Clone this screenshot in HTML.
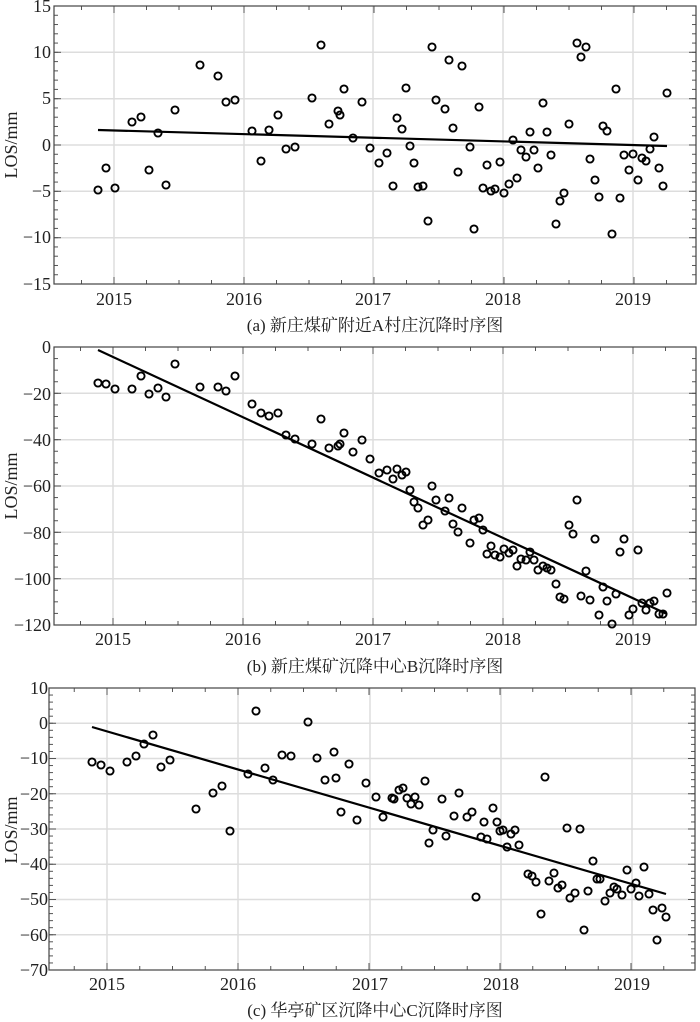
<!DOCTYPE html>
<html><head><meta charset="utf-8"></head><body style="margin:0;background:#fff;">
<svg id="s" width="700" height="1022" viewBox="0 0 700 1022" style="display:block" font-family="'Liberation Serif', 'DejaVu Serif', 'Noto Serif CJK SC', serif" font-size="17" fill="#222">
<g id="g"></g>
<g font-family="Liberation Serif, serif" font-size="18" fill="#222">
<g text-anchor="end">
<text x="51" y="12">15</text><text x="51" y="58">10</text><text x="51" y="104">5</text><text x="51" y="151">0</text>
<text x="51" y="197">−5</text><text x="51" y="243">−10</text><text x="51" y="290">−15</text>
</g>
<g text-anchor="middle">
<text x="114" y="305">2015</text><text x="244" y="305">2016</text><text x="373" y="305">2017</text><text x="503" y="305">2018</text><text x="633" y="305">2019</text>
</g>
<text transform="translate(17,145) rotate(-90)" text-anchor="middle">LOS/mm</text>
<g text-anchor="end">
<text x="51" y="353">0</text><text x="51" y="400">−20</text><text x="51" y="446">−40</text><text x="51" y="492">−60</text>
<text x="51" y="539">−80</text><text x="51" y="585">−100</text><text x="51" y="631">−120</text>
</g>
<g text-anchor="middle">
<text x="113" y="645">2015</text><text x="243" y="645">2016</text><text x="373" y="645">2017</text><text x="503" y="645">2018</text><text x="633" y="645">2019</text>
</g>
<text transform="translate(17,486) rotate(-90)" text-anchor="middle">LOS/mm</text>
<g text-anchor="end">
<text x="48" y="694">10</text><text x="48" y="729">0</text><text x="48" y="764">−10</text><text x="48" y="800">−20</text>
<text x="48" y="835">−30</text><text x="48" y="870">−40</text><text x="48" y="905">−50</text><text x="48" y="941">−60</text><text x="48" y="976">−70</text>
</g>
<g text-anchor="middle">
<text x="107" y="990">2015</text><text x="238" y="990">2016</text><text x="370" y="990">2017</text><text x="501" y="990">2018</text><text x="632" y="990">2019</text>
</g>
<text transform="translate(17,830) rotate(-90)" text-anchor="middle">LOS/mm</text>
</g>
<g font-family="Liberation Serif, Noto Serif CJK SC, serif" font-size="17" fill="#222" text-anchor="middle">
<text x="375" y="331">(a) 新庄煤矿附近A村庄沉降时序图</text>
<text x="375" y="672">(b) 新庄煤矿沉降中心B沉降时序图</text>
<text x="375" y="1016">(c) 华亭矿区沉降中心C沉降时序图</text>
</g>
</svg>
<script>
var NS="http://www.w3.org/2000/svg",g=document.getElementById("g");
function el(t,a){var e=document.createElementNS(NS,t);for(var k in a)e.setAttribute(k,a[k]);g.appendChild(e);return e;}
function panel(L,R,T,B,xs,ymaj,yminStep,pts,line){
  xs.forEach(function(x){el("line",{x1:x,x2:x,y1:T,y2:B,stroke:"#ccc","stroke-width":1});});
  ymaj.forEach(function(y){el("line",{x1:L,x2:R,y1:y,y2:y,stroke:"#ddd","stroke-width":1.5});});
  var dx=(xs[1]-xs[0])/4;
  for(var x=xs[0]-4*dx;x<R;x+=dx){if(x<=L)continue;var len=(Math.abs((x-xs[0])/(4*dx)-Math.round((x-xs[0])/(4*dx)))<0.01)?7:4;
    el("line",{x1:x,x2:x,y1:B,y2:B-len,stroke:"#555"});el("line",{x1:x,x2:x,y1:T,y2:T+len,stroke:"#555"});}
  for(var y=T;y<=B+0.5;y+=yminStep){el("line",{x1:L,x2:L+4,y1:y,y2:y,stroke:"#555"});el("line",{x1:R,x2:R-4,y1:y,y2:y,stroke:"#555"});}
  ymaj.forEach(function(y){el("line",{x1:L,x2:L+7,y1:y,y2:y,stroke:"#555"});el("line",{x1:R,x2:R-7,y1:y,y2:y,stroke:"#555"});});
  el("rect",{x:L,y:T,width:R-L,height:B-T,fill:"none",stroke:"#444","stroke-width":1.2});
  el("line",{x1:line[0],y1:line[1],x2:line[2],y2:line[3],stroke:"#000","stroke-width":2.2});
  for(var i=0;i<pts.length;i+=2)el("circle",{cx:pts[i],cy:pts[i+1],r:3.6,fill:"none",stroke:"#000","stroke-width":1.9});
}
var A=[98,190,106,168,115,188,132,122,141,117,149,170,158,133,166,185,175,110,200,65,218,76,226,102,235,100,252,131,261,161,269,130,278,115,286,149,295,147,312,98,321,45,329,124,338,111,340,115,344,89,353,138,362,102,370,148,379,163,387,153,393,186,397,118,402,129,406,88,410,146,414,163,418,187,423,186,428,221,432,47,436,100,445,109,449,60,453,128,458,172,462,66,470,147,474,229,479,107,483,188,487,165,491,191,495,189,500,162,504,193,509,184,513,140,517,178,521,150,526,157,530,132,534,150,538,168,543,103,547,132,551,155,556,224,560,201,564,193,569,124,577,43,581,57,586,47,590,159,595,180,599,197,603,126,607,131,612,234,616,89,620,198,624,155,629,170,633,154,638,180,642,158,646,161,650,149,654,137,659,168,663,186,667,93];
var Bp=[98,383,106,384,115,389,132,389,141,376,149,394,158,388,166,397,175,364,200,387,218,387,226,391,235,376,252,404,261,413,269,416,278,413,286,435,295,439,312,444,321,419,329,448,338,446,340,444,344,433,353,452,362,440,370,459,379,473,387,470,393,479,397,469,402,475,406,472,410,490,414,502,418,508,423,525,428,520,432,486,436,500,445,511,449,498,453,524,458,532,462,508,470,543,474,520,479,518,483,530,487,554,491,546,495,555,500,557,504,549,509,553,513,550,517,566,521,559,526,560,530,552,534,560,538,570,543,566,547,568,551,570,556,584,560,597,564,599,569,525,573,534,577,500,581,596,586,571,590,600,595,539,599,615,603,587,607,601,612,624,616,594,620,552,624,539,629,615,633,609,638,550,642,603,646,610,650,603,654,601,659,614,663,614,667,593];
var C=[92,762,101,765,110,771,127,762,136,756,144,744,153,735,161,767,170,760,196,809,213,793,222,786,230,831,248,774,256,711,265,768,273,780,282,755,291,756,308,722,317,758,325,780,334,752,336,778,341,812,349,764,357,820,366,783,376,797,383,817,392,798,394,799,399,790,403,788,407,798,411,804,415,797,419,805,425,781,429,843,433,830,442,799,446,836,454,816,459,793,467,817,472,812,476,897,481,837,484,822,487,839,493,808,497,822,500,831,503,830,507,847,511,834,515,830,519,845,528,874,532,876,536,882,541,914,545,777,549,881,554,873,558,888,562,885,567,828,570,898,575,893,580,829,584,930,588,891,593,861,597,879,600,879,605,901,610,893,614,887,617,889,622,895,627,870,631,889,636,883,639,896,644,867,649,894,653,910,657,940,662,908,666,917];
panel(54,696,6,284,[114,244,373,503,633],[52.3,98.7,145,191.3,237.7],9.267,A,[98,130,667,146]);
panel(54,696,347,625,[113,243,373,503,633],[393.3,439.7,486,532.3,578.7],11.583,Bp,[98,350,667,614]);
panel(49,695,688,970,[107,238,370,501,632],[723.25,758.5,793.75,829,864.25,899.5,934.75],7.05,C,[92,727,666,894]);
</script>
</body></html>
